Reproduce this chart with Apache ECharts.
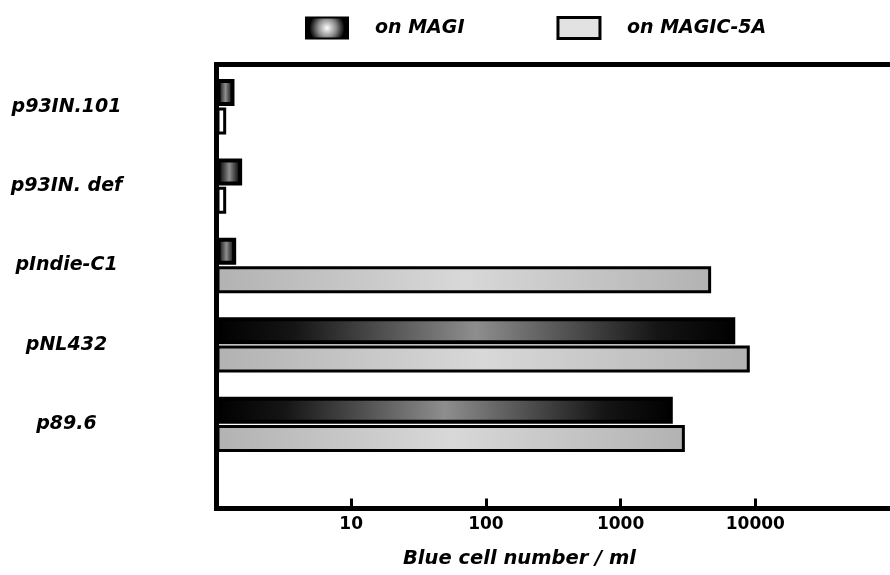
<!DOCTYPE html>
<html>
<head>
<meta charset="utf-8">
<script src="https://cdn.jsdelivr.net/npm/echarts@6/dist/echarts.min.js"></script>
<style>html,body{margin:0;padding:0;background:#fff}#c{width:890px;height:575px}</style>
</head>
<body>
<div id="c"></div>
<script>
const categories = ['p93IN.101', 'p93IN. def', 'pIndie-C1', 'pNL432', 'p89.6'];
const seriesNames = ['on MAGI', 'on MAGIC-5A'];
const magiValues = [1.36, 1.55, 1.40, 7100, 2440];
const magic5aValues = [1.18, 1.18, 4700, 9100, 3000];
const tickValues = [1, 10, 100, 1000, 10000, 100000];

const FONT = '"DejaVu Sans", "Liberation Sans", Arial, sans-serif';
const chart = echarts.init(document.getElementById('c'), null, {renderer: 'canvas'});

const darkFill = {
  type: 'linear', x: 0, y: 0, x2: 1, y2: 0,
  colorStops: [
    {offset: 0, color: '#000000'},
    {offset: 0.15, color: '#151515'},
    {offset: 0.5, color: '#8e8e8e'},
    {offset: 0.85, color: '#151515'},
    {offset: 1, color: '#000000'}
  ]
};
const lightFill = {
  type: 'linear', x: 0, y: 0, x2: 1, y2: 0,
  colorStops: [
    {offset: 0, color: '#b2b2b2'},
    {offset: 0.5, color: '#d8d8d8'},
    {offset: 1, color: '#b2b2b2'}
  ]
};
const legendDark = {
  type: 'radial', x: 0.5, y: 0.5, r: 0.9,
  colorStops: [
    {offset: 0, color: '#ffffff'},
    {offset: 0.45, color: '#8a8a8a'},
    {offset: 0.85, color: '#000000'},
    {offset: 1, color: '#000000'}
  ]
};

const frameLine = {show: true, lineStyle: {color: '#000', width: 5, cap: 'square'}};

const option = {
  animation: false,
  backgroundColor: '#ffffff',
  textStyle: {fontFamily: FONT},
  legend: {
    data: [
      {name: seriesNames[0], itemStyle: {color: legendDark, borderColor: '#000', borderWidth: 2}},
      {name: seriesNames[1], itemStyle: {color: '#e2e2e2', borderColor: '#000', borderWidth: 3}}
    ],
    left: 300, top: 11,
    itemWidth: 42, itemHeight: 21,
    itemGap: 92,
    icon: 'rect',
    textStyle: {fontFamily: FONT, fontSize: 19, fontWeight: 'bold', fontStyle: 'italic', color: '#000', padding: [0, 0, 0, 22]}
  },
  title: {
    text: 'Blue cell number / ml',
    left: 398, top: 544,
    textStyle: {fontFamily: FONT, fontSize: 19.5, fontWeight: 'bold', fontStyle: 'italic', color: '#000'}
  },
  grid: [
    {left: 216.5, top: 67, width: 678.5, height: 397, show: false},
    {left: 216.5, top: 64.5, width: 678.5, height: 444, show: false}
  ],
  xAxis: [
    {gridIndex: 0, type: 'log', logBase: 10, min: tickValues[0], max: tickValues[tickValues.length - 1],
     axisLine: {show: false}, axisTick: {show: false}, axisLabel: {show: false}, splitLine: {show: false}},
    {gridIndex: 1, type: 'log', logBase: 10, min: tickValues[0], max: tickValues[tickValues.length - 1],
     position: 'bottom',
     axisLine: frameLine,
     axisTick: {show: true, inside: true, length: 10, lineStyle: {color: '#000', width: 3}},
     axisLabel: {show: true, showMinLabel: false, showMaxLabel: false, margin: 8,
       formatter: function (v) { return String(Math.round(v)); },
       fontFamily: FONT, fontSize: 17, fontWeight: 'bold', color: '#000'},
     splitLine: {show: false}, minorTick: {show: false}},
    {gridIndex: 1, type: 'log', logBase: 10, min: tickValues[0], max: tickValues[tickValues.length - 1],
     position: 'top',
     axisLine: frameLine, axisTick: {show: false}, axisLabel: {show: false}, splitLine: {show: false}}
  ],
  yAxis: [
    {gridIndex: 0, type: 'category', data: categories, inverse: true,
     axisLine: {show: false}, axisTick: {show: false},
     axisLabel: {show: true, align: 'center', margin: 150,
       fontFamily: FONT, fontSize: 19, fontWeight: 'bold', fontStyle: 'italic', color: '#000'}},
    {gridIndex: 1, type: 'value', min: 0, max: 1,
     axisLine: frameLine,
     axisTick: {show: false}, axisLabel: {show: false}, splitLine: {show: false}}
  ],
  series: [
    {name: seriesNames[0], type: 'bar', xAxisIndex: 0, yAxisIndex: 0, data: magiValues,
     barWidth: 27, barGap: '5%',
     itemStyle: {color: darkFill, borderColor: '#000', borderWidth: 4}},
    {name: seriesNames[1], type: 'bar', xAxisIndex: 0, yAxisIndex: 0,
     data: magic5aValues.map(function (v) { return v < 10 ? {value: v, itemStyle: {color: '#ffffff'}} : v; }),
     barWidth: 27, barGap: '5%',
     itemStyle: {color: lightFill, borderColor: '#000', borderWidth: 3}}
  ]
};
chart.setOption(option);
</script>
</body>
</html>
